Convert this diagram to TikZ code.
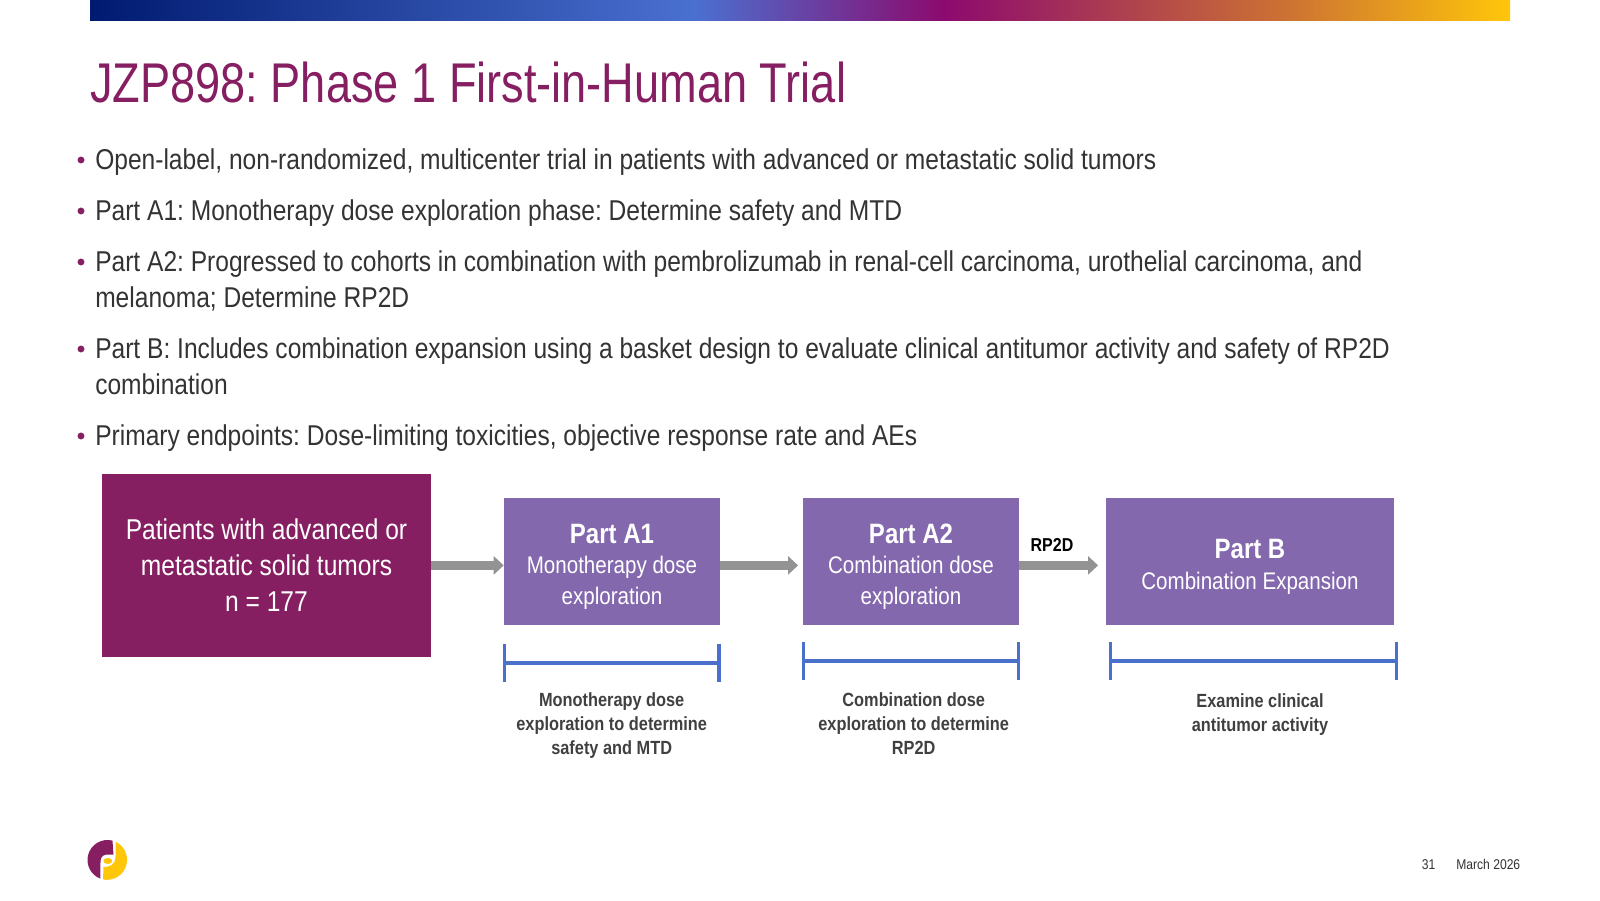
\documentclass[tikz,border=0pt]{standalone}
\usepackage{fontspec}
\setmainfont[FakeStretch=0.857]{Liberation Sans}
\newfontfamily\titlefont[FakeStretch=0.806]{Liberation Sans}
\usetikzlibrary{arrows.meta}
\definecolor{plum}{HTML}{861F62}
\definecolor{violet}{HTML}{8368AE}
\definecolor{arrowgrey}{HTML}{939393}
\definecolor{barblue}{HTML}{4A70CC}
\definecolor{bodygrey}{HTML}{333333}
\definecolor{capgrey}{HTML}{404040}
\definecolor{sunny}{HTML}{FFC60A}
\definecolor{navy}{RGB}{0,26,112}
\definecolor{midblue}{RGB}{74,112,208}
\definecolor{magenta}{RGB}{140,10,110}
\definecolor{amber}{RGB}{205,115,50}
\tikzset{
	bullettext/.style={anchor=base west,inner sep=0pt,align=left,text=bodygrey,font=\fontsize{21.5}{27}\selectfont},
	bulletdot/.style={circle,fill=plum,inner sep=0pt,minimum size=5.2pt},
	partbox/.style={fill=violet,text=white,inner sep=0pt,minimum height=95.5pt,align=center,font=\fontsize{18}{23}\selectfont},
	flowarrow/.style={draw=arrowgrey,line width=6.75pt,-{Triangle[length=7.5pt,width=13.5pt]}},
	spanbar/.style={draw=barblue,line width=2.5pt,{Bar[width=28pt,line width=2.6pt]}-{Bar[width=28pt,line width=2.6pt]}},
	caption/.style={text=capgrey,inner sep=0pt,align=center,font=\fontsize{14.3}{18}\selectfont\bfseries},
	footer/.style={anchor=base west,inner sep=0pt,text=bodygrey,font=\fontsize{10.6}{13}\selectfont}
}
\newcommand{\parttitle}[1]{\rule{0pt}{22.4pt}{\fontsize{21}{26}\selectfont\bfseries #1}}

\begin{document}
\frenchspacing
\begin{tikzpicture}[x=0.75pt,y=-0.75pt]
		\useasboundingbox (0,0) rectangle (1600,900);
		\shade[left color=navy,right color=midblue] (90,0) rectangle (695,20.5);
		\shade[left color=midblue,right color=magenta] (694.5,0) rectangle (945,20.5);
		\shade[left color=magenta,right color=amber] (944.5,0) rectangle (1290,20.5);
		\shade[left color=amber,right color=sunny] (1289.5,0) rectangle (1510,20.5);
		\node[anchor=base west,inner sep=0pt,text=plum,font=\titlefont\fontsize{42}{48}\selectfont] (title) at (90,102) {JZP898: Phase 1 First-in-Human Trial};
		\node[bullettext] (b1) at (95,169) {Open-label, non-randomized, multicenter trial in patients with advanced or metastatic solid tumors};
		\node[bullettext] (b2) at (95,220) {Part A1: Monotherapy dose exploration phase: Determine safety and MTD};
		\node[bullettext] (b3) at (95,307) {Part A2: Progressed to cohorts in combination with pembrolizumab in renal-cell carcinoma, urothelial carcinoma, and\\melanoma; Determine RP2D};
		\node[bullettext] (b4) at (95,394) {Part B: Includes combination expansion using a basket design to evaluate clinical antitumor activity and safety of RP2D\\combination};
		\node[bullettext] (b5) at (95,445) {Primary endpoints: Dose-limiting toxicities, objective response rate and AEs};
		\node[bulletdot] (d1) at (81,160) {};
		\node[bulletdot] (d2) at (81,211) {};
		\node[bulletdot] (d3) at (81,262) {};
		\node[bulletdot] (d4) at (81,349) {};
		\node[bulletdot] (d5) at (81,436) {};
		\node[fill=plum,text=white,inner sep=0pt,minimum width=247pt,minimum height=137.5pt,align=center,font=\fontsize{21.5}{27}\selectfont] (patients) at (266.5,565.4) {Patients with advanced or\\metastatic solid tumors\\n = 177};
		\node[partbox,minimum width=162pt] (parta1) at (612,561.5) {\parttitle{Part A1}\\Monotherapy dose\\exploration};
		\node[partbox,minimum width=162pt] (parta2) at (911,561.5) {\parttitle{Part A2}\\Combination dose\\exploration};
		\node[partbox,minimum width=215.5pt] (partb) at (1250,561.5) {\parttitle{Part B}\\Combination Expansion};
		\draw[flowarrow] (patients.east) -- (parta1.west |- patients.east);
		\draw[flowarrow,shorten >=3.5pt] (parta1.east |- patients.east) -- (parta2.west |- patients.east);
		\draw[flowarrow,shorten >=6pt] (parta2.east |- patients.east) -- (partb.west |- patients.east);
		\node[inner sep=0pt,font=\fontsize{14}{18}\selectfont\bfseries] (rp2d) at (1052,545) {RP2D};
		\coordinate (a1left) at (503,663);
		\coordinate (a1right) at (720.5,663);
		\coordinate (a2left) at (802,661);
		\coordinate (a2right) at (1020,661);
		\coordinate (bleft) at (1109,661);
		\coordinate (bright) at (1398,661);
		\draw[spanbar] (a1left) -- (a1right);
		\draw[spanbar] (a2left) -- (a2right);
		\draw[spanbar] (bleft) -- (bright);
		\node[caption] (capa1) at (611.7,725.5) {Monotherapy dose\\exploration to determine\\safety and MTD};
		\node[caption] (capa2) at (913.7,724) {Combination dose\\exploration to determine\\RP2D};
		\node[caption] (capb) at (1260,715) {Examine clinical\\antitumor activity};
		\node[footer] (pagenum) at (1421.5,869) {31};
		\node[footer] (datestamp) at (1456,869) {March 2026};
		\begin{scope}[shift={(0.5,1)}]
		\fill[plum] (112,839.6) arc (-75.5:-249.5:20) -- (100,860) .. controls (100,855) and (104,853.5) .. (107,853.5) -- (113,853.5) -- cycle;
		\fill[sunny] (115,840.7) arc (-65:101.5:20) -- (103,866) .. controls (108,866) and (115,865) .. (115,855) -- cycle;
		\fill[sunny] (107.3,860) ellipse [x radius=4.5,y radius=3];
		\end{scope}
\end{tikzpicture}
\end{document}
